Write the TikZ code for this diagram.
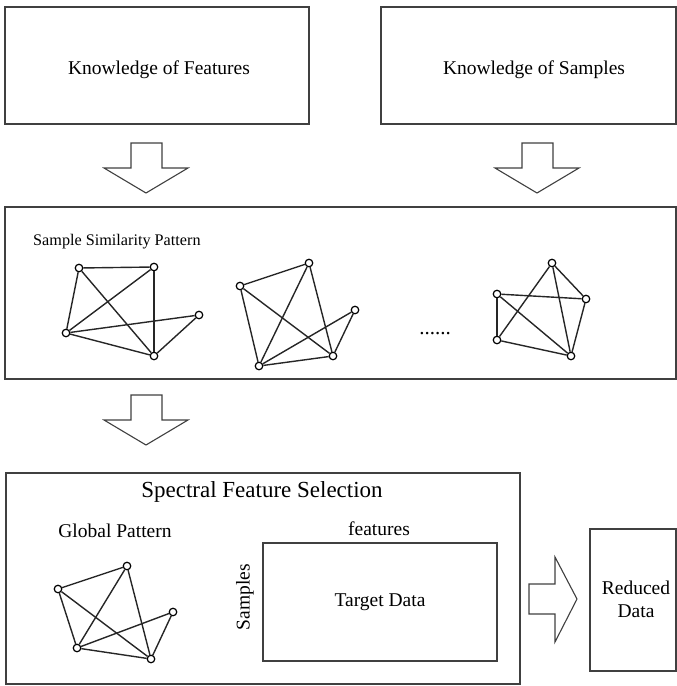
\documentclass[tikz,border=0pt]{standalone}
\usepackage{fontspec}
\setmainfont{Liberation Serif}
\begin{document}
\begin{tikzpicture}[x=1pt,y=-1pt,
  box/.style={draw=black!75,line width=1.3pt},
  blockarrow/.style={draw=black!75,line width=1.1pt,fill=white},
  vtx/.style={circle,draw=black,line width=1.2pt,fill=white,inner sep=0pt,minimum size=7.5pt},
  edge/.style={draw=black!85,line width=1.4pt},
  lbl/.style={font=\fontsize{19.5}{23}\selectfont,inner sep=0pt}]
\useasboundingbox (0,0) rectangle (677,686);
% top boxes
\draw[box] (5,7) rectangle (309,124);
\node[lbl] (kf) at (159,70) {Knowledge of Features};
\draw[box] (381,7) rectangle (676,124);
\node[lbl] (ks) at (534,70) {Knowledge of Samples};
% down arrows
\draw[blockarrow] (131,143) -- (162,143) -- (162,168) -- (188,168) -- (146,193) -- (104,168) -- (131,168) -- cycle;
\draw[blockarrow] (522,143) -- (553,143) -- (553,168) -- (579,168) -- (537,193) -- (495,168) -- (522,168) -- cycle;
% middle box
\draw[box] (5,207) rectangle (676,379);
\node[lbl,font=\fontsize{16.2}{18}\selectfont,anchor=west] (ssp) at (33,242) {Sample Similarity Pattern};
% graph 1
\node[vtx] (a1) at (79,268) {};
\node[vtx] (b1) at (154,267) {};
\node[vtx] (c1) at (199,315) {};
\node[vtx] (d1) at (66,333) {};
\node[vtx] (e1) at (154,356) {};
\foreach \u/\v in {a1/b1,a1/d1,a1/e1,b1/d1,b1/e1,d1/c1,d1/e1,e1/c1}
  \draw[edge] (\u) -- (\v);
% graph 2
\node[vtx] (p2) at (240,286) {};
\node[vtx] (q2) at (309,263) {};
\node[vtx] (r2) at (355,310) {};
\node[vtx] (s2) at (259,366) {};
\node[vtx] (t2) at (333,356) {};
\foreach \u/\v in {p2/q2,p2/s2,p2/t2,q2/s2,q2/t2,s2/r2,s2/t2,t2/r2}
  \draw[edge] (\u) -- (\v);
% dots
\node[lbl,font=\fontsize{21}{23}\selectfont] (dots) at (435,334) {......};
% graph 3
\node[vtx] (u3) at (552,263) {};
\node[vtx] (v3) at (497,294) {};
\node[vtx] (w3) at (586,299) {};
\node[vtx] (x3) at (497,340) {};
\node[vtx] (y3) at (571,356) {};
\foreach \u/\v in {v3/w3,v3/x3,v3/y3,u3/x3,u3/w3,u3/y3,x3/y3,w3/y3}
  \draw[edge] (\u) -- (\v);
% lower down arrow
\draw[blockarrow] (131,395) -- (162,395) -- (162,420) -- (188,420) -- (146,445) -- (104,420) -- (131,420) -- cycle;
% bottom box
\draw[box] (6,473) rectangle (520,684);
\node[lbl,font=\fontsize{23}{27}\selectfont] (sfs) at (262,492) {Spectral Feature Selection};
\node[lbl] (gp) at (115,531) {Global Pattern};
% graph 4
\node[vtx] (p4) at (58,589) {};
\node[vtx] (q4) at (127,566) {};
\node[vtx] (r4) at (173,612) {};
\node[vtx] (s4) at (77,648) {};
\node[vtx] (t4) at (151,659) {};
\foreach \u/\v in {p4/q4,p4/s4,p4/t4,q4/s4,q4/t4,s4/r4,s4/t4,t4/r4}
  \draw[edge] (\u) -- (\v);
% target data
\node[lbl] (feat) at (379,529) {features};
\draw[box] (263,543) rectangle (497,661);
\node[lbl] (td) at (380,602) {Target Data};
\node[lbl,rotate=90] (smp) at (245,597) {Samples};
% right arrow
\draw[blockarrow] (529,584) -- (555,584) -- (555,557) -- (577,599) -- (555,642) -- (555,614) -- (529,614) -- cycle;
% reduced data
\draw[box] (590,529) rectangle (676,671);
\node[lbl,align=center] (rd) at (636,599) {Reduced\\Data};
\end{tikzpicture}
\end{document}
